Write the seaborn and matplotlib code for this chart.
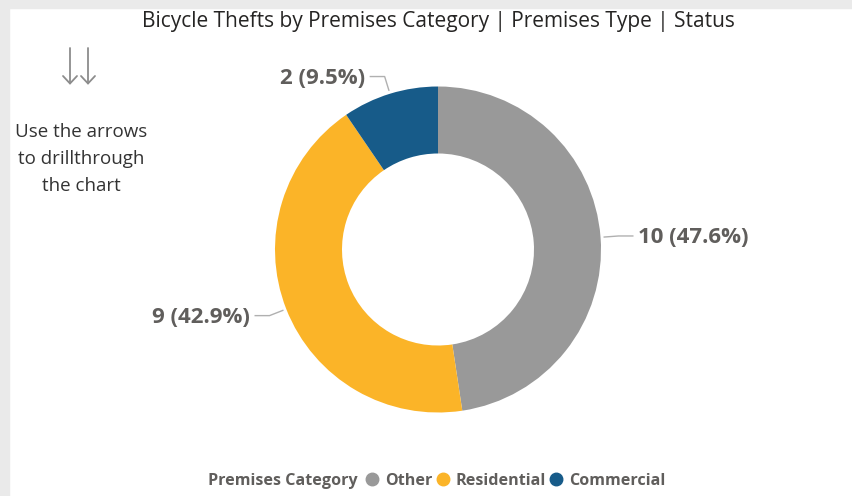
import matplotlib.pyplot as plt
import numpy as np
import seaborn as sns
from matplotlib.lines import Line2D
from matplotlib.patches import Rectangle

# data
categories = ['Other', 'Residential', 'Commercial']
thefts = [10, 9, 2]
colors = ['#999999', '#FBB428', '#175B89']

title = 'Bicycle Thefts by Premises Category | Premises Type | Status'
hint = 'Use the arrows\nto drillthrough\nthe chart'

sns.set_theme(style='white')
plt.rcParams['font.family'] = ['Open Sans', 'DejaVu Sans']

W, H = 853, 496
fig = plt.figure(figsize=(W / 100, H / 100), dpi=100)
fig.patch.set_facecolor('white')
fig.patches.append(Rectangle((0, 1 - 8 / H), 1, 8 / H, transform=fig.transFigure,
                             color='#EAEAEA', zorder=0))
fig.patches.append(Rectangle((0, 0), 9 / W, 1, transform=fig.transFigure,
                             color='#EAEAEA', zorder=0))

ax = fig.add_axes([0, 0, 1, 1])
ax.patch.set_alpha(0)

cx, cy, R = 438, H - 249.5, 163
wedges, _ = ax.pie(thefts, colors=colors, startangle=90, counterclock=False,
                   center=(cx, cy), radius=R,
                   wedgeprops=dict(width=R - 96, linewidth=0))
ax.set_xlim(0, W)
ax.set_ylim(0, H)
ax.set_aspect('equal')
ax.axis('off')

total = sum(thefts)
lab_color = '#605E5C'
for w, v in zip(wedges, thefts):
    mid = np.deg2rad((w.theta1 + w.theta2) / 2)
    c, s = np.cos(mid), np.sin(mid)
    p1 = (cx + (R + 3) * c, cy + (R + 3) * s)
    p2 = (cx + (R + 18) * c, cy + (R + 18) * s)
    side = 1 if c >= 0 else -1
    p3 = (p2[0] + side * 15, p2[1])
    ax.plot([p1[0], p2[0], p3[0]], [p1[1], p2[1], p3[1]],
            color='#B0B0B0', lw=1, solid_capstyle='butt')
    ax.text(p3[0] + side * 5, p3[1] - 1.5, f'{v} ({v / total * 100:.1f}%)',
            ha='left' if side > 0 else 'right', va='center',
            fontsize=16, fontweight='bold', color=lab_color)

fig.text(438 / W, 1 - 21 / H, title, ha='center', va='center',
         fontsize=15, color='#252423')

# drillthrough arrows
for ax_x in (70, 88):
    ax.plot([ax_x, ax_x], [H - 48, H - 83], color='#8C8C8C', lw=1.3)
    ax.plot([ax_x - 7, ax_x, ax_x + 7], [H - 76, H - 83.5, H - 76],
            color='#8C8C8C', lw=1.3, solid_joinstyle='miter')

fig.text(81 / W, 1 - 159 / H, hint, ha='center', va='center',
         fontsize=13.5, color='#333333', linespacing=1.62)

fig.text(208 / W, 1 - 481 / H, 'Premises Category', ha='left', va='center',
         fontsize=11.6, fontweight='bold', color=lab_color)
handles = [Line2D([], [], marker='o', ls='', markersize=9, color=col)
           for col in colors]
leg = fig.legend(handles, categories, loc='center left',
                 bbox_to_anchor=(365.5 / W, 1 - 481 / H), ncol=3, frameon=False,
                 borderpad=0, borderaxespad=0, handletextpad=0.4,
                 columnspacing=0.25, handlelength=0.8,
                 prop=dict(size=11.6, weight='bold'))
for t in leg.get_texts():
    t.set_color(lab_color)

fig.savefig('out.png', dpi=100)
